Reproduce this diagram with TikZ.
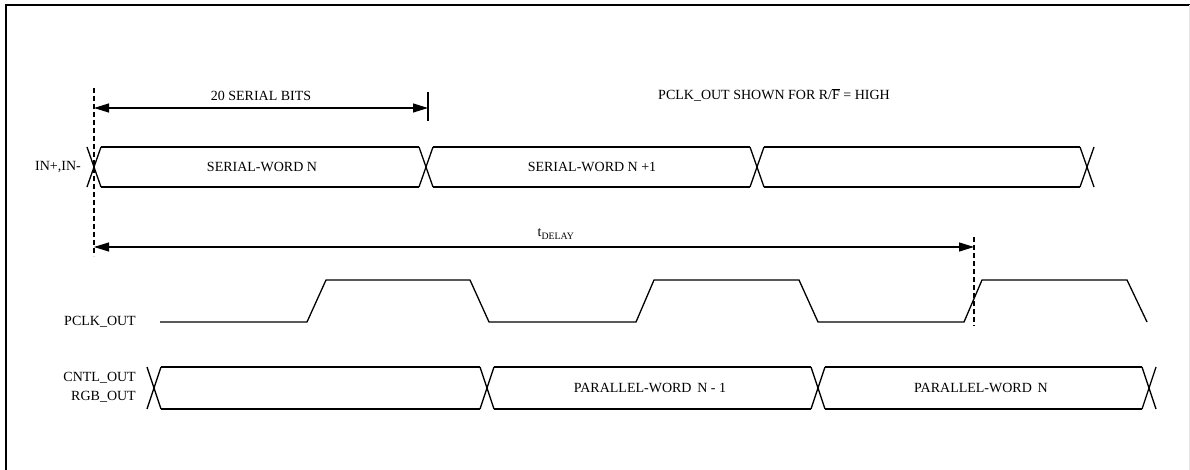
\documentclass[tikz,border=0pt]{standalone}
\usepackage{fontspec}
\setmainfont{Liberation Serif}
\usetikzlibrary{arrows.meta}
\begin{document}
\begin{tikzpicture}[x=1pt,y=-1pt,
  sig/.style={line width=1.3pt, line join=miter},
  lbl/.style={font=\fontsize{14}{16}\selectfont, inner sep=0pt},
  dimarrow/.style={line width=1.2pt, {Triangle[length=15pt,width=9pt]}-{Triangle[length=15pt,width=9pt]}},
  guide/.style={line width=1.5pt, dash pattern=on 5pt off 3pt},
  frameline/.style={line width=2.4pt}]
\useasboundingbox (0,0) rectangle (1190,470);
% frame
\draw[frameline] (6,470) -- (6,5) -- (1190,5);
\draw[gray!20, line width=1pt] (1189.5,5) -- (1189.5,470);

% serial bus
\foreach \c in {94,426,757,1087} {
  \draw[sig] (\c-7,147) -- (\c+7,187) (\c-7,187) -- (\c+7,147);
}
\foreach \a/\b in {94/426,426/757,757/1087} {
  \draw[sig] (\a+7,147) -- (\b-7,147) (\a+7,187) -- (\b-7,187);
}
% parallel bus
\foreach \c in {154,487,818,1149} {
  \draw[sig] (\c-7,367) -- (\c+7,409) (\c-7,409) -- (\c+7,367);
}
\foreach \a/\b in {154/487,487/818,818/1149} {
  \draw[sig] (\a+7,367) -- (\b-7,367) (\a+7,409) -- (\b-7,409);
}
% PCLK
\draw[sig] (160,322) -- (307,322) -- (326,280) -- (470,280) -- (489,322)
  -- (636,322) -- (654,280) -- (799,280) -- (818,322)
  -- (964,322) -- (982,280) -- (1127,280) -- (1147,322);

% guide lines
\coordinate (g1top) at (94,88);
\coordinate (g1bot) at (94,256);
\coordinate (g2top) at (974,237);
\coordinate (g2bot) at (974,326);
\draw[guide] (g1top) -- (g1bot);
\draw[guide] (g2top) -- (g2bot);

% 20 serial bits
\coordinate (sbL) at (94,108);
\coordinate (sbR) at (428,108);
\coordinate (tickT) at (428,92);
\coordinate (tickB) at (428,121);
\draw[dimarrow] (sbL) -- (sbR);
\draw[line width=1.2pt] (tickT) -- (tickB);
\node[lbl] (bits) at (261,96) {20 SERIAL BITS};

% tDELAY
\coordinate (tdL) at (94,247);
\coordinate (tdR) at (974,247);
\draw[dimarrow] (tdL) -- (tdR);
\node[lbl] (tdelay) at (556,234) {t\textsubscript{DELAY}};

% note
\node[lbl] (note) at (774,95) {PCLK\_OUT SHOWN FOR R/$\overline{\mbox{F}}$ = HIGH};

% labels
\node[lbl, anchor=east] (inlbl) at (81,167) {IN+,IN-};
\node[lbl, anchor=east] (pclklbl) at (136,322) {PCLK\_OUT};
\node[lbl, anchor=east] (cntllbl) at (136,378) {CNTL\_OUT};
\node[lbl, anchor=east] (rgblbl) at (136,397) {RGB\_OUT};

% bus texts
\node[lbl] (sw1) at (262,167) {SERIAL-WORD N};
\node[lbl] (sw2) at (592,167) {SERIAL-WORD N +1};
\node[lbl] (pw1) at (650,388) {PARALLEL-WORD\, N - 1};
\node[lbl] (pw2) at (981,388) {PARALLEL-WORD\, N};
\end{tikzpicture}
\end{document}
